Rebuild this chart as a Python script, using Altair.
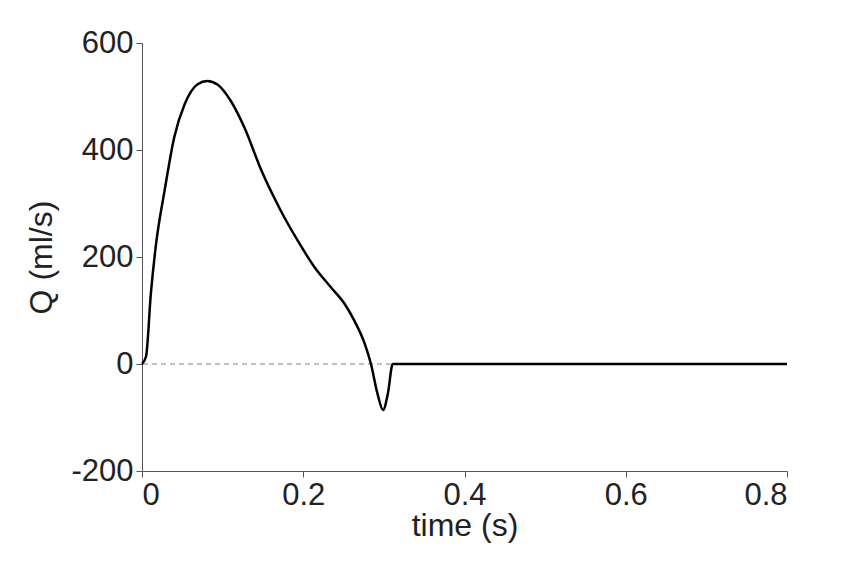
import altair as alt
import pandas as pd

time_s = [0, .005, .011, .017, .028, .040, .053, .069, .081, .094, .110, .127, .148, .172,
          .193, .214, .234, .251, .263, .276, .284, .292, .299, .305, .311, .4, .5, .6, .7, .8]
flow = [0, 14, 132, 219, 324, 424, 486, 523, 529, 522, 492, 442, 362, 287,
        231, 181, 144, 113, 82, 39, 0, -55, -86, -55, 0, 0, 0, 0, 0, 0]

df = pd.DataFrame({"t": time_s, "q": flow})

font = "Liberation Sans"

line = alt.Chart(df).mark_line(color="black", strokeWidth=2.5, interpolate="monotone").encode(
    x=alt.X("t:Q", title="time (s)", scale=alt.Scale(domain=[0, 0.8]),
            axis=alt.Axis(values=[0, 0.2, 0.4, 0.6, 0.8], format="~g", titlePadding=0)),
    y=alt.Y("q:Q", title="Q (ml/s)", scale=alt.Scale(domain=[-200, 600]),
            axis=alt.Axis(values=[-200, 0, 200, 400, 600], titlePadding=12,
                          labelExpr="replace(datum.label, '\u2212', '-')")),
)

zero = alt.Chart(pd.DataFrame({"q": [0]})).mark_rule(color="gray", strokeDash=[5, 4], strokeWidth=1).encode(y="q:Q")

chart = (zero + line).properties(
    width=645, height=428, autosize="none",
    padding={"left": 134, "top": 35, "right": 70, "bottom": 100},
).configure_view(stroke=None).configure_axis(
    grid=False, domainColor="#555", tickColor="#555", tickSize=6,
    labelFont=font, labelFontSize=31, labelColor="#222", labelPadding=3,
    titleFont=font, titleFontSize=32, titleFontWeight="normal", titleColor="#222",
)

chart.save("out.html", embed_options={"renderer": "svg", "actions": False})
